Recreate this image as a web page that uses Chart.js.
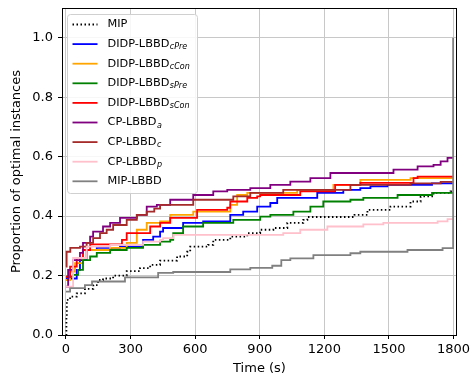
<!DOCTYPE html>
<html><head><meta charset="utf-8">
<script src="https://cdn.jsdelivr.net/npm/chart.js@4/dist/chart.umd.min.js"></script>
<style>html,body{margin:0;padding:0;background:#fff}canvas{display:block}</style>
</head><body>
<canvas id="c" width="472" height="381"></canvas>
<script>
// ---- data ----
const xTicks = [0, 300, 600, 900, 1200, 1500, 1800];
const yTicks = [0, 0.2, 0.4, 0.6, 0.8, 1.0];
const seriesNames = ['MIP', 'DIDP-LBBD', 'DIDP-LBBD', 'DIDP-LBBD', 'DIDP-LBBD', 'CP-LBBD', 'CP-LBBD', 'CP-LBBD', 'MIP-LBBD'];
const seriesSubs  = ['', 'cPre', 'cCon', 'sPre', 'sCon', 'a', 'c', 'p', ''];

const mipT = [0,2,4,19,50,88,127,149,172,219,282,344,391,437,516,563,577,660,684,763,842,902,963,1028,1102,1121,1340,1400,1507,1600,1647,1707,1786,1800];
const mipY = [0,0.06,0.118,0.129,0.14,0.155,0.168,0.185,0.19,0.2,0.215,0.225,0.236,0.25,0.264,0.28,0.297,0.303,0.32,0.331,0.343,0.354,0.36,0.377,0.387,0.397,0.404,0.421,0.432,0.449,0.466,0.478,0.483,0.483];

const cPreT = [0,50,65,96,143,251,358,405,437,451,544,637,763,823,888,949,981,1167,1288,1367,1414,1493,1700,1800];
const cPreY = [0.19,0.219,0.252,0.286,0.293,0.297,0.32,0.331,0.348,0.36,0.377,0.382,0.404,0.415,0.432,0.444,0.461,0.478,0.488,0.494,0.5,0.505,0.51,0.51];

const cConT = [0,19,42,79,205,282,329,375,437,484,591,763,795,842,1074,1242,1367,1600,1800];
const cConY = [0.185,0.213,0.242,0.286,0.293,0.31,0.354,0.377,0.382,0.404,0.415,0.438,0.471,0.478,0.488,0.505,0.522,0.528,0.528];

const sPreT = [0,33,56,79,112,143,205,282,358,437,484,498,544,637,777,902,949,1056,1135,1195,1321,1381,1540,1700,1800];
const sPreY = [0.196,0.202,0.219,0.252,0.264,0.276,0.286,0.293,0.303,0.314,0.32,0.343,0.365,0.377,0.387,0.398,0.404,0.415,0.432,0.449,0.455,0.461,0.471,0.478,0.478];

const sConT = [0,19,50,79,112,260,282,391,437,484,609,749,763,842,888,902,1088,1250,1367,1614,1633,1800];
const sConY = [0.196,0.23,0.259,0.286,0.305,0.32,0.343,0.365,0.377,0.394,0.421,0.428,0.449,0.461,0.466,0.471,0.483,0.505,0.512,0.528,0.533,0.533];

const cpAT = [0,10,33,65,79,112,126,172,205,251,329,375,422,484,591,684,749,856,949,1042,1135,1228,1521,1633,1707,1740,1772,1800];
const cpAY = [0.163,0.219,0.252,0.276,0.31,0.331,0.348,0.365,0.377,0.394,0.404,0.432,0.438,0.455,0.471,0.483,0.488,0.494,0.505,0.516,0.528,0.545,0.556,0.567,0.572,0.584,0.596,0.596];

const cpCT = [0,3,20,65,96,126,158,189,219,282,329,375,410,437,591,777,856,1009,1321,1600,1740,1800];
const cpCY = [0.23,0.28,0.293,0.297,0.31,0.326,0.343,0.354,0.37,0.387,0.404,0.415,0.425,0.438,0.455,0.466,0.478,0.488,0.505,0.51,0.515,0.515];

const cpPT = [0,33,96,205,358,437,451,498,1009,1088,1214,1381,1474,1726,1772,1800];
const cpPY = [0.163,0.259,0.297,0.303,0.314,0.32,0.326,0.337,0.343,0.354,0.365,0.372,0.377,0.382,0.39,0.39];

const mipLbbdT = [0,19,88,121,274,428,498,763,856,958,1000,1042,1149,1321,1367,1586,1749,1798];
const mipLbbdY = [0.146,0.158,0.168,0.18,0.194,0.209,0.212,0.221,0.226,0.233,0.252,0.258,0.269,0.275,0.28,0.286,0.292,1.0];

// ---- styles ----
const seriesColors = ['#000000','#0000ff','#ffa500','#008000','#ff0000','#800080','#a52a2a','#ffc0cb','#808080'];
const FONT = '"DejaVu Sans", "Liberation Sans", sans-serif';
const DOT = [1.5, 2.5];

const seriesT = [mipT, cPreT, cConT, sPreT, sConT, cpAT, cpCT, cpPT, mipLbbdT];
const seriesY = [mipY, cPreY, cConY, sPreY, sConY, cpAY, cpCY, cpPY, mipLbbdY];

const datasets = seriesNames.map((name, i) => ({
  label: name + (seriesSubs[i] ? ' ' + seriesSubs[i] : ''),
  data: seriesT[i].map((t, k) => ({x: t, y: seriesY[i][k]})),
  borderColor: seriesColors[i],
  backgroundColor: seriesColors[i],
  borderWidth: 1.8,
  borderDash: i === 0 ? DOT : [],
  stepped: 'before',
  pointRadius: 0,
  fill: false,
  order: seriesNames.length - i
}));

const framePlugin = {
  id: 'frame',
  afterDraw(chart) {
    const {ctx, chartArea: a} = chart;
    ctx.save();
    ctx.strokeStyle = '#000';
    ctx.lineWidth = 1;
    ctx.strokeRect(Math.round(a.left) + 0.5, Math.round(a.top) + 0.5, Math.round(a.right - a.left) - 1, Math.round(a.bottom - a.top));
    ctx.restore();
  }
};

const legendPlugin = {
  id: 'subLegend',
  afterDraw(chart) {
    const {ctx, chartArea: a} = chart;
    const bx = a.left + 5.5, by = a.top + 6.5, bw = 130, bh = 179;
    ctx.save();
    ctx.beginPath();
    if (ctx.roundRect) ctx.roundRect(bx, by, bw, bh, 3); else ctx.rect(bx, by, bw, bh);
    ctx.fillStyle = 'rgba(255,255,255,0.85)';
    ctx.fill();
    ctx.strokeStyle = '#d0d0d0';
    ctx.lineWidth = 1;
    ctx.stroke();
    const rowH = 19.6;
    for (let i = 0; i < seriesNames.length; i++) {
      const y = by + 10 + i * rowH;
      ctx.beginPath();
      ctx.setLineDash(i === 0 ? DOT : []);
      ctx.strokeStyle = seriesColors[i];
      ctx.lineWidth = 1.8;
      ctx.moveTo(bx + 5, y);
      ctx.lineTo(bx + 30, y);
      ctx.stroke();
      ctx.setLineDash([]);
      ctx.fillStyle = '#000';
      ctx.textBaseline = 'middle';
      ctx.textAlign = 'left';
      ctx.font = '11.3px ' + FONT;
      const tx = bx + 40;
      ctx.fillText(seriesNames[i], tx, y);
      if (seriesSubs[i]) {
        const w = ctx.measureText(seriesNames[i]).width;
        ctx.font = 'italic 8px ' + FONT;
        ctx.fillText(seriesSubs[i], tx + w + 0.5, y + 3);
      }
    }
    ctx.restore();
  }
};

new Chart(document.getElementById('c').getContext('2d'), {
  type: 'line',
  data: {datasets},
  plugins: [framePlugin, legendPlugin],
  options: {
    responsive: false,
    animation: false,
    devicePixelRatio: 1,
    layout: {padding: {left: 0, right: 15, top: 8, bottom: 0}},
    plugins: {legend: {display: false}, tooltip: {enabled: false}},
    elements: {point: {radius: 0}, line: {tension: 0}},
    scales: {
      x: {
        type: 'linear', min: -18.5, max: 1816,
        afterBuildTicks: s => { s.ticks = xTicks.map(v => ({value: v})); },
        afterFit: s => { s.height = 46; s.paddingLeft = 0; s.paddingRight = 0; },
        ticks: {font: {family: FONT, size: 13}, color: '#000', padding: 3, maxRotation: 0, autoSkip: false, callback: v => String(v)},
        grid: {color: '#c8c8c8', lineWidth: 1, drawTicks: true, tickLength: 4, tickColor: '#000', tickWidth: 1},
        border: {display: false},
        title: {display: true, text: 'Time (s)', font: {family: FONT, size: 13}, color: '#000', padding: {top: 0, bottom: 5}}
      },
      y: {
        type: 'linear', min: 0, max: 1.1,
        afterBuildTicks: s => { s.ticks = yTicks.map(v => ({value: v})); },
        afterFit: s => { s.width = 62; s.paddingTop = 0; s.paddingBottom = 0; },
        ticks: {font: {family: FONT, size: 13}, color: '#000', padding: 5, autoSkip: false, callback: v => Number(v).toFixed(1)},
        grid: {color: '#c8c8c8', lineWidth: 1, drawTicks: true, tickLength: 4, tickColor: '#000', tickWidth: 1},
        border: {display: false},
        title: {display: true, text: 'Proportion of optimal instances', font: {family: FONT, size: 13}, color: '#000', padding: {top: 9, bottom: 0}}
      }
    }
  }
});
</script>
</body></html>
